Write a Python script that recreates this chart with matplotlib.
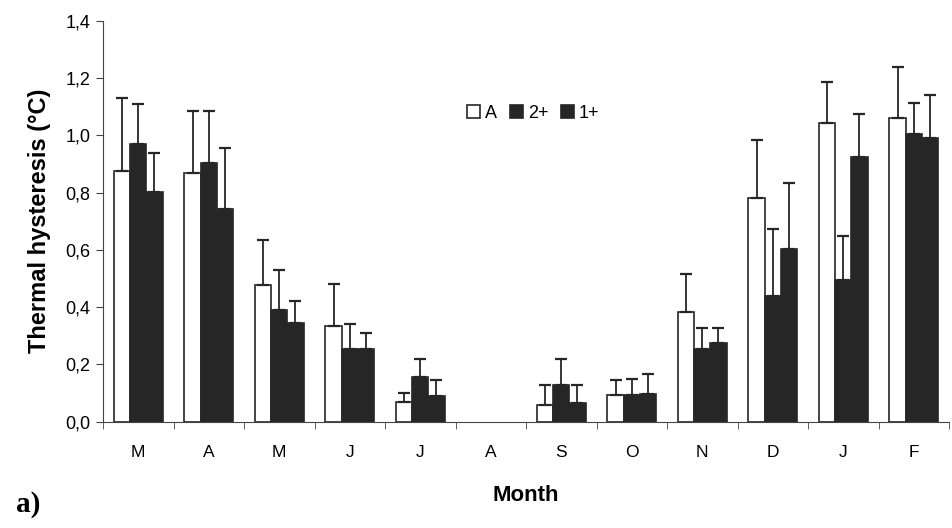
import numpy as np
import matplotlib.pyplot as plt

# Monthly thermal hysteresis values
months = ['M', 'A', 'M', 'J', 'J', 'A', 'S', 'O', 'N', 'D', 'J', 'F']
adult = [0.875, 0.868, 0.477, 0.334, 0.068, 0.0, 0.058, 0.092, 0.384, 0.780, 1.042, 1.059]
adult_top = [1.129, 1.084, 0.634, 0.482, 0.099, 0.0, 0.129, 0.144, 0.517, 0.983, 1.187, 1.240]
two_plus = [0.969, 0.904, 0.389, 0.255, 0.157, 0.0, 0.129, 0.092, 0.253, 0.439, 0.494, 1.003]
two_plus_top = [1.108, 1.084, 0.528, 0.341, 0.218, 0.0, 0.219, 0.149, 0.326, 0.672, 0.648, 1.111]
one_plus = [0.802, 0.744, 0.346, 0.255, 0.090, 0.0, 0.066, 0.098, 0.276, 0.603, 0.925, 0.991]
one_plus_top = [0.939, 0.956, 0.421, 0.311, 0.146, 0.0, 0.127, 0.168, 0.326, 0.834, 1.076, 1.140]

plt.rcParams['font.family'] = ['Liberation Sans', 'DejaVu Sans']

fig = plt.figure(figsize=(9.52, 5.28), dpi=100)
ax = fig.add_axes([103 / 952, 1 - 421.7 / 528, 846 / 952, (421.7 - 20.7) / 528])

x = np.arange(len(months))
w = 0.23
series = [(adult, adult_top, 'white', 'A'),
          (two_plus, two_plus_top, '#262626', '2+'),
          (one_plus, one_plus_top, '#262626', '1+')]
for i, (vals, tops, col, lab) in enumerate(series):
    vals = np.array(vals)
    err = np.array(tops) - vals
    mask = vals > 0
    pos = x + (i - 1) * w
    ax.bar(pos[mask], vals[mask], w, color=col, edgecolor='#262626', linewidth=1.2, label=lab)
    ax.errorbar(pos[mask], vals[mask], yerr=[np.zeros(mask.sum()), err[mask]], fmt='none',
                ecolor='#262626', elinewidth=1.3, capsize=4.5, capthick=1.6)

ax.set_xlim(-0.5, 11.5)
ax.set_ylim(0, 1.4)
ax.set_yticks(np.arange(0, 1.41, 0.2))
ax.set_yticklabels([f'{v:.1f}'.replace('.', ',') for v in np.arange(0, 1.41, 0.2)], fontsize=13)
ax.set_xticks(x)
ax.set_xticklabels(months, fontsize=12.5)
ax.set_xticks(np.arange(-0.5, 12, 1), minor=True)
ax.tick_params(axis='x', which='major', length=0, pad=17)
ax.tick_params(axis='x', which='minor', length=5, color='#444')
ax.tick_params(axis='y', length=5, color='#444', pad=4)
for s in ['top', 'right']:
    ax.spines[s].set_visible(False)
for s in ['left', 'bottom']:
    ax.spines[s].set_color('#444')

ax.set_ylabel('Thermal hysteresis (°C)', fontsize=17, fontweight='bold', labelpad=10)
ax.set_xlabel('Month', fontsize=16, fontweight='bold', labelpad=18)
ax.legend(loc='center left', bbox_to_anchor=(0.411, 0.769), ncol=3, frameon=False,
          handlelength=0.75, handleheight=0.75, handletextpad=0.25, columnspacing=0.7,
          prop={'size': 13})
fig.text(0.017, 0.03, 'a)', fontsize=21, fontweight='bold', family='Liberation Serif')

plt.savefig('out.png', dpi=100)
